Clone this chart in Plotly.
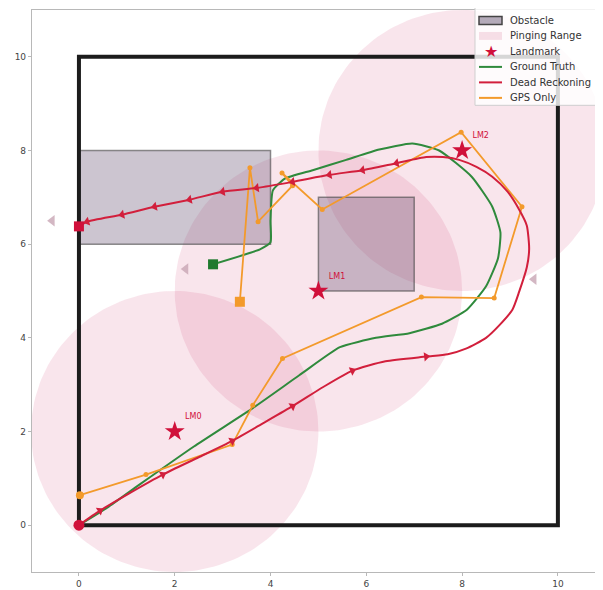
import numpy as np
import plotly.graph_objects as go

# ---------------- data ----------------
landmark_names = ["LM0", "LM1", "LM2"]
landmark_x = [2.0, 5.0, 8.0]
landmark_y = [2.0, 5.0, 8.0]
ping_radius = 3.0

# obstacles: x0, x1, y0, y1
obstacle_x0 = [0.0, 5.0]
obstacle_x1 = [4.0, 7.0]
obstacle_y0 = [6.0, 5.0]
obstacle_y1 = [8.0, 7.0]

# arena boundary
bound_x = [0, 10, 10, 0, 0]
bound_y = [0, 0, 10, 10, 0]

# ground truth
gt_x = [0.0, 0.6, 1.27, 2.4, 3.63, 4.6, 5.45, 6.2, 6.9, 7.58, 8.1, 8.5, 8.75, 8.8,
        8.63, 8.2, 7.52, 6.96, 6.27, 5.58, 4.88, 4.3, 4.05, 4.0, 4.0, 3.78, 2.8]
gt_y = [0.0, 0.38, 0.87, 1.68, 2.5, 3.2, 3.8, 4.0, 4.1, 4.3, 4.6, 5.1, 5.7, 6.25,
        6.8, 7.44, 8.0, 8.15, 8.02, 7.8, 7.58, 7.4, 7.15, 6.5, 6.04, 5.89, 5.57]

# dead reckoning
dr_x = [0.0, 0.44, 1.05, 1.75, 2.5, 3.2, 3.85, 4.46, 5.1, 5.71, 6.4, 7.25, 7.7, 8.08,
        8.5, 8.77, 9.05, 9.19, 9.35, 9.4, 9.35, 9.19, 8.95, 8.63, 8.3, 7.94, 7.6, 7.25,
        6.63, 5.92, 5.23, 4.46, 3.71, 3.0, 2.31, 1.58, 0.9, 0.17, 0.0]
dr_y = [0.0, 0.31, 0.68, 1.08, 1.45, 1.8, 2.18, 2.54, 2.95, 3.3, 3.5, 3.6, 3.65, 3.77,
        4.0, 4.26, 4.6, 4.98, 5.5, 5.9, 6.4, 6.74, 7.12, 7.44, 7.65, 7.8, 7.86, 7.86,
        7.73, 7.58, 7.48, 7.33, 7.2, 7.12, 6.95, 6.8, 6.63, 6.48, 6.38]
dr_arrow_idx = [1, 3, 5, 7, 9, 11, 28, 29, 30, 31, 32, 33, 34, 35, 36, 37]

# GPS only
gps_x = [0.02, 1.4, 3.2, 3.63, 4.25, 7.15, 8.67, 9.25, 7.98, 5.08, 4.24, 4.46, 3.74, 3.57, 3.36]
gps_y = [0.64, 1.08, 1.72, 2.56, 3.56, 4.87, 4.85, 6.8, 8.39, 6.74, 7.52, 7.25, 6.48, 7.63, 4.77]

# faint heading markers
ghost_x = [-0.56, 2.23, 9.5]
ghost_y = [6.5, 5.47, 5.25]

legend_labels = ["Obstacle", "Pinging Range", "Landmark", "Ground Truth",
                 "Dead Reckoning", "GPS Only"]

GREEN = "#2f8a3c"
RED = "#d21f3c"
ORANGE = "#f39a2b"
CRIMSON = "#d0103a"
PING_FILL = "rgba(205,40,95,0.12)"
OBS_FILL = "rgba(95,75,110,0.32)"
OBS_EDGE = "rgba(70,70,70,0.6)"

fig = go.Figure()

# pinging range circles
theta = np.linspace(0, 2 * np.pi, 181)
for i, (cx, cy) in enumerate(zip(landmark_x, landmark_y)):
    fig.add_trace(go.Scatter(
        x=cx + ping_radius * np.cos(theta), y=cy + ping_radius * np.sin(theta),
        mode="lines", fill="toself", fillcolor=PING_FILL,
        line=dict(width=0, color="rgba(230,170,190,0.6)"),
        name="Pinging Range", showlegend=False, hoverinfo="skip"))

# obstacles
for i in range(len(obstacle_x0)):
    fig.add_trace(go.Scatter(
        x=[obstacle_x0[i], obstacle_x1[i], obstacle_x1[i], obstacle_x0[i], obstacle_x0[i]],
        y=[obstacle_y0[i], obstacle_y0[i], obstacle_y1[i], obstacle_y1[i], obstacle_y0[i]],
        mode="lines", fill="toself", fillcolor=OBS_FILL,
        line=dict(width=1.5, color=OBS_EDGE),
        name="Obstacle", showlegend=False, hoverinfo="skip"))

# boundary
fig.add_trace(go.Scatter(x=bound_x, y=bound_y, mode="lines",
                         line=dict(color="#1c1c1c", width=4), showlegend=False,
                         hoverinfo="skip"))

# ghost heading markers
fig.add_trace(go.Scatter(x=ghost_x, y=ghost_y, mode="markers",
                         marker=dict(symbol="triangle-left", size=10,
                                     color="rgba(200,165,180,0.8)"),
                         showlegend=False, hoverinfo="skip"))

# ground truth
fig.add_trace(go.Scatter(x=gt_x, y=gt_y, mode="lines", name="Ground Truth",
                         line=dict(color=GREEN, width=2, shape="spline", smoothing=0.5),
                         showlegend=False))
fig.add_trace(go.Scatter(x=[gt_x[-1]], y=[gt_y[-1]], mode="markers",
                         marker=dict(symbol="square", size=10, color="#1f7a2e"),
                         showlegend=False))

# GPS only
fig.add_trace(go.Scatter(x=gps_x, y=gps_y, mode="lines+markers", name="GPS Only",
                         line=dict(color=ORANGE, width=1.8),
                         marker=dict(size=5, color=ORANGE), showlegend=False))
fig.add_trace(go.Scatter(x=[gps_x[-1]], y=[gps_y[-1]], mode="markers",
                         marker=dict(symbol="square", size=10, color=ORANGE),
                         showlegend=False))
fig.add_trace(go.Scatter(x=[gps_x[0]], y=[gps_y[0]], mode="markers",
                         marker=dict(symbol="circle", size=8, color=ORANGE),
                         showlegend=False))

# dead reckoning
fig.add_trace(go.Scatter(x=dr_x, y=dr_y, mode="lines", name="Dead Reckoning",
                         line=dict(color=RED, width=2, shape="spline", smoothing=0.6),
                         showlegend=False))
dx_arr = np.array(dr_x)
dy_arr = np.array(dr_y)
ax, ay, ang = [], [], []
for k in dr_arrow_idx:
    ddx = (dx_arr[k + 1] - dx_arr[k - 1]) * 47.9
    ddy = (dy_arr[k + 1] - dy_arr[k - 1]) * 47.2
    ax.append(dr_x[k])
    ay.append(dr_y[k])
    ang.append(float(np.degrees(np.arctan2(ddx, ddy))))
fig.add_trace(go.Scatter(x=ax, y=ay, mode="markers",
                         marker=dict(symbol="triangle-up", size=8, color=RED, angle=ang),
                         showlegend=False, hoverinfo="skip"))
fig.add_trace(go.Scatter(x=[dr_x[0]], y=[dr_y[0]], mode="markers",
                         marker=dict(symbol="circle", size=11, color=CRIMSON),
                         showlegend=False))
fig.add_trace(go.Scatter(x=[dr_x[-1]], y=[dr_y[-1]], mode="markers",
                         marker=dict(symbol="square", size=10, color=CRIMSON),
                         showlegend=False))

# landmarks
fig.add_trace(go.Scatter(x=landmark_x, y=landmark_y, mode="markers+text",
                         name="Landmark", text=landmark_names,
                         textposition="top right",
                         textfont=dict(color=CRIMSON, size=8, family="DejaVu Sans"),
                         marker=dict(symbol="star", size=15, color=CRIMSON),
                         showlegend=False))

# ---------------- compact legend (matplotlib-like) ----------------
# plot area in page pixels: left 32, right 601, top 9, bottom 575
PL, PR, PT, PB = 32.0, 601.0, 9.0, 575.0


def px(xp):
    return (xp - PL) / (PR - PL)


def py(yp):
    return (PB - yp) / (PB - PT)


shapes = []
annotations = []
shapes.append(dict(type="rect", xref="paper", yref="paper",
                   x0=px(475), x1=px(600), y0=py(105), y1=py(5),
                   fillcolor="rgba(255,255,255,0.82)",
                   line=dict(color="#cfcfcf", width=1), layer="above"))
row0, step = 19.5, 15.6
ix0, ix1, tx = 479, 502, 508
kinds = ["rect_obs", "rect_ping", "star", "line_g", "line_r", "line_o"]
for j, (lab, kind) in enumerate(zip(legend_labels, kinds)):
    yc = row0 + j * step
    if kind == "rect_obs":
        shapes.append(dict(type="rect", xref="paper", yref="paper",
                           x0=px(ix0), x1=px(ix1), y0=py(yc + 4), y1=py(yc - 4),
                           fillcolor="rgb(180,170,185)", line=dict(color="#444", width=1.5),
                           layer="above"))
    elif kind == "rect_ping":
        shapes.append(dict(type="rect", xref="paper", yref="paper",
                           x0=px(ix0), x1=px(ix1), y0=py(yc + 4), y1=py(yc - 4),
                           fillcolor="rgb(246,222,230)", line=dict(width=0),
                           layer="above"))
    elif kind == "star":
        annotations.append(dict(xref="paper", yref="paper", x=px((ix0 + ix1) / 2),
                                y=py(yc), text="★", showarrow=False,
                                font=dict(size=16, color=CRIMSON),
                                xanchor="center", yanchor="middle"))
    else:
        col = {"line_g": GREEN, "line_r": RED, "line_o": ORANGE}[kind]
        shapes.append(dict(type="line", xref="paper", yref="paper",
                           x0=px(ix0), x1=px(ix1), y0=py(yc), y1=py(yc),
                           line=dict(color=col, width=2), layer="above"))
    annotations.append(dict(xref="paper", yref="paper", x=px(tx), y=py(yc),
                            text=lab, showarrow=False, xanchor="left",
                            yanchor="middle",
                            font=dict(size=10, color="#333", family="DejaVu Sans")))

axis_common = dict(showgrid=False, zeroline=False, showline=True, linecolor="#b8b8b8",
                   linewidth=1.2, mirror=True, ticks="outside", ticklen=3,
                   tickcolor="#b8b8b8", tickfont=dict(size=9, color="#444",
                                                       family="DejaVu Sans"),
                   tickvals=[0, 2, 4, 6, 8, 10])

fig.update_layout(
    width=595, height=582,
    margin=dict(l=24, r=2, t=1, b=15),
    plot_bgcolor="white", paper_bgcolor="white",
    font=dict(family="DejaVu Sans", size=8, color="#333"),
    xaxis=dict(range=[-0.98, 10.9], **axis_common),
    yaxis=dict(range=[-1.0, 11.0], **axis_common),
    shapes=shapes, annotations=annotations,
    showlegend=False,
)

fig.write_html("out.html")
